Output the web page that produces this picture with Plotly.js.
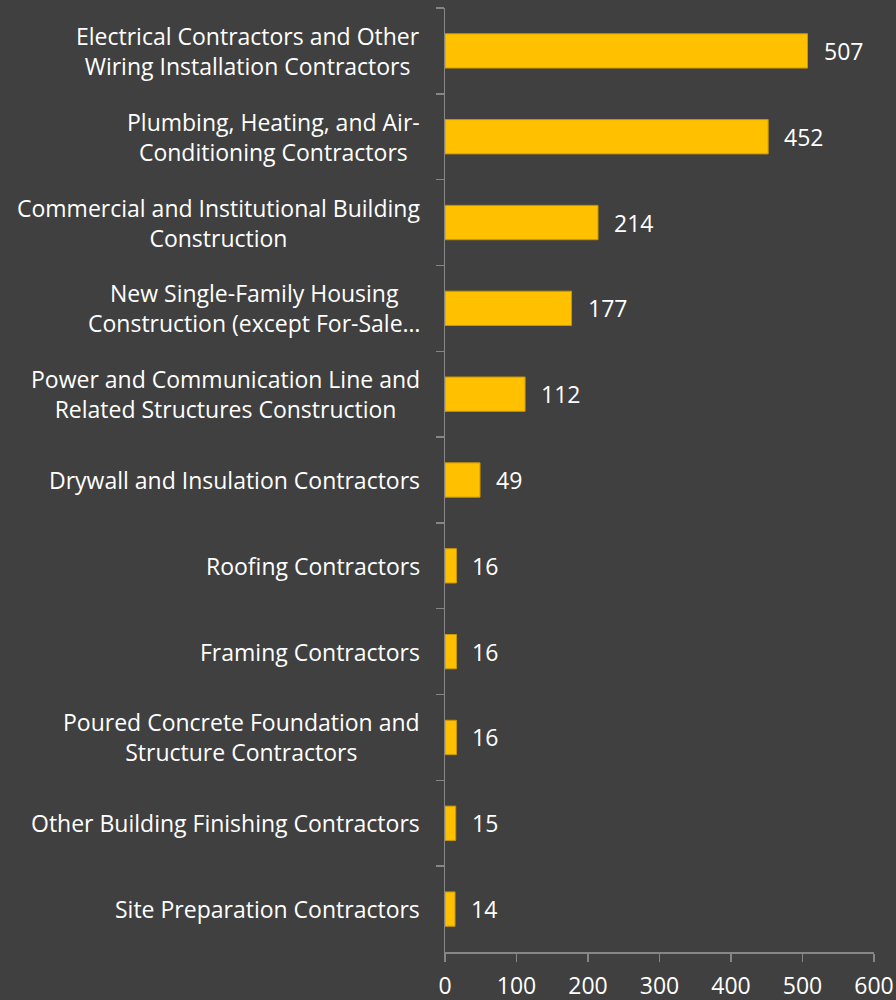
<!DOCTYPE html>
<html>
<head>
<meta charset="utf-8">
<script src="https://cdn.plot.ly/plotly-3.0.1.min.js"></script>
<style>
  html, body { margin: 0; padding: 0; background: #404040; }
  #chart { width: 896px; height: 1000px; }
</style>
</head>
<body>
<div id="chart"></div>
<script>
const categories = [
  "Electrical Contractors and Other<br>Wiring Installation Contractors",
  "Plumbing, Heating, and Air-<br>Conditioning Contractors",
  "Commercial and Institutional Building<br>Construction",
  "New Single-Family Housing<br>Construction (except For-Sale…",
  "Power and Communication Line and<br>Related Structures Construction",
  "Drywall and Insulation Contractors",
  "Roofing Contractors",
  "Framing Contractors",
  "Poured Concrete Foundation and<br>Structure Contractors",
  "Other Building Finishing Contractors",
  "Site Preparation Contractors"
];
const values = [507, 452, 214, 177, 112, 49, 16, 16, 16, 15, 14];
const xTickValues = [0, 100, 200, 300, 400, 500, 600];

const fontFamily = "'Open Sans', 'DejaVu Sans', sans-serif";
const white = "#ffffff";
const fs = 23;

const trace = {
  type: "bar",
  orientation: "h",
  x: values,
  y: categories,
  marker: { color: "#FFC000", line: { color: "#C99700", width: 1 } },
  hoverinfo: "none"
};

const annotations = [];
categories.forEach((c, i) => {
  annotations.push({
    xref: "paper", yref: "y", x: 0, y: c,
    xanchor: "right", yanchor: "middle", xshift: -23,
    text: c, showarrow: false, align: "center",
    font: { family: fontFamily, size: fs, color: white }
  });
  annotations.push({
    xref: "x", yref: "y", x: values[i], y: c,
    xanchor: "left", yanchor: "middle", xshift: 14,
    text: String(values[i]), showarrow: false,
    font: { family: fontFamily, size: fs, color: white }
  });
});

const layout = {
  width: 896, height: 1000,
  paper_bgcolor: "#404040", plot_bgcolor: "#404040",
  margin: { l: 445, r: 22, t: 8, b: 48 },
  showlegend: false,
  bargap: 0.6,
  font: { family: fontFamily, size: fs, color: white },
  xaxis: {
    range: [0, 600], tickvals: xTickValues, ticktext: xTickValues.map(String),
    showgrid: false, zeroline: false,
    showline: true, linecolor: "#868686", linewidth: 1.5,
    ticks: "outside", ticklen: 8, tickcolor: "#868686", tickwidth: 1.5,
    ticklabelstandoff: 5,
    tickfont: { family: fontFamily, size: fs, color: white },
    fixedrange: true
  },
  yaxis: {
    type: "category", autorange: "reversed",
    categoryorder: "array", categoryarray: categories,
    showticklabels: false, showgrid: false, zeroline: false,
    showline: true, linecolor: "#868686", linewidth: 1.5,
    ticks: "outside", ticklen: 8, tickcolor: "#868686", tickwidth: 1.5,
    tickson: "boundaries",
    fixedrange: true
  },
  annotations: annotations
};

Plotly.newPlot("chart", [trace], layout, { staticPlot: true, displayModeBar: false });
</script>
</body>
</html>
